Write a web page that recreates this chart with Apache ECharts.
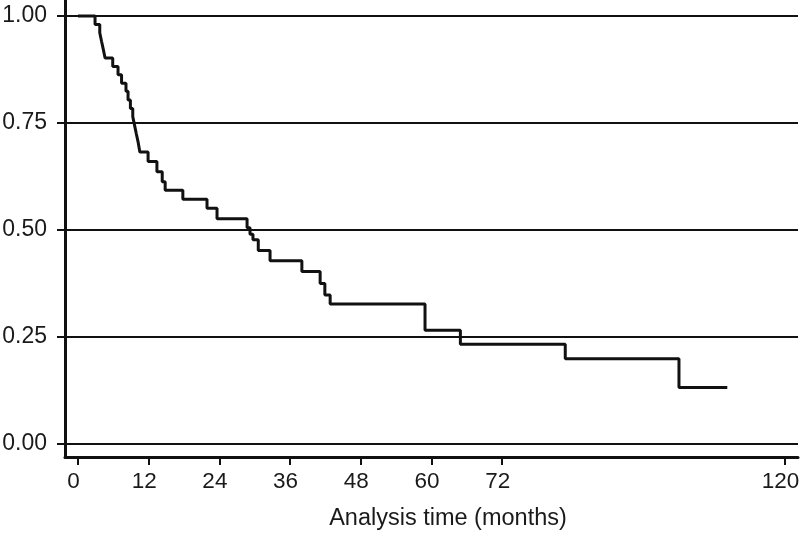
<!DOCTYPE html>
<html>
<head>
<meta charset="utf-8">
<script src="https://cdn.jsdelivr.net/npm/echarts@6/dist/echarts.min.js"></script>
<style>
html,body{margin:0;padding:0;background:#fff;}
#chart{width:800px;height:533px;}
</style>
</head>
<body>
<div id="chart"></div>
<script>
// Kaplan-Meier estimate: time (months) at which survival drops, and survival after the drop
const times = [0, 2.9, 3.7, 4.0, 4.3, 4.6, 5.9, 6.8, 7.4, 8.15, 8.5, 8.9, 9.3, 9.6, 9.9, 10.2, 10.5,
  11.9, 13.4, 14.3, 14.8, 17.8, 21.9, 23.6, 28.7, 29.2, 29.7, 30.6, 32.6, 38.0, 41.1, 41.9, 42.8,
  58.9, 64.9, 82.7, 102.0, 110.2];
const survival = [1.0, 0.980, 0.961, 0.941, 0.922, 0.902, 0.882, 0.863, 0.843, 0.824, 0.804, 0.784, 0.765,
  0.745, 0.725, 0.706, 0.682, 0.660, 0.636, 0.613, 0.593, 0.572, 0.551, 0.526, 0.505, 0.490, 0.477,
  0.452, 0.428, 0.403, 0.375, 0.348, 0.327, 0.266, 0.233, 0.199, 0.132, 0.132];
const xTicks = [0, 12, 24, 36, 48, 60, 72, 120];
const yTicks = [0, 0.25, 0.5, 0.75, 1];
const xTitle = 'Analysis time (months)';

const chart = echarts.init(document.getElementById('chart'), null, {renderer: 'canvas'});
const font = '"Liberation Sans", Arial, Helvetica, sans-serif';
chart.setOption({
  animation: false,
  backgroundColor: '#fff',
  grid: {left: 65, right: 2, top: 0, bottom: 76, containLabel: false, outerBoundsMode: 'none'},
  xAxis: {
    type: 'value',
    min: -2.2,
    max: 122.2,
    axisLine: {show: true, onZero: false, lineStyle: {color: '#111', width: 3}},
    axisTick: {show: true, customValues: xTicks, length: 8, lineStyle: {color: '#111', width: 2}},
    axisLabel: {customValues: xTicks, margin: 13, fontSize: 22.5, color: '#1a1a1a', fontFamily: font,
      padding: [0, 9, 0, 0]},
    splitLine: {show: false},
    name: xTitle,
    nameLocation: 'middle',
    nameGap: 50,
    nameTextStyle: {fontSize: 23.5, color: '#1a1a1a', fontFamily: font, padding: [0, 0, 0, 33]}
  },
  yAxis: {
    type: 'value',
    min: -0.0304,
    max: 1.0374,
    axisLine: {show: true, onZero: false, lineStyle: {color: '#111', width: 3}},
    axisTick: {show: true, customValues: yTicks, length: 8, lineStyle: {color: '#111', width: 2}},
    axisLabel: {customValues: yTicks, margin: 18, fontSize: 23, color: '#1a1a1a', fontFamily: font,
      formatter: v => v.toFixed(2)},
    splitLine: {show: true, lineStyle: {color: '#111', width: 2}}
  },
  series: [{
    type: 'line',
    step: 'end',
    symbol: 'none',
    data: times.map((t, i) => [t, survival[i]]),
    lineStyle: {color: '#111', width: 3},
    z: 5
  }]
});
</script>
</body>
</html>
